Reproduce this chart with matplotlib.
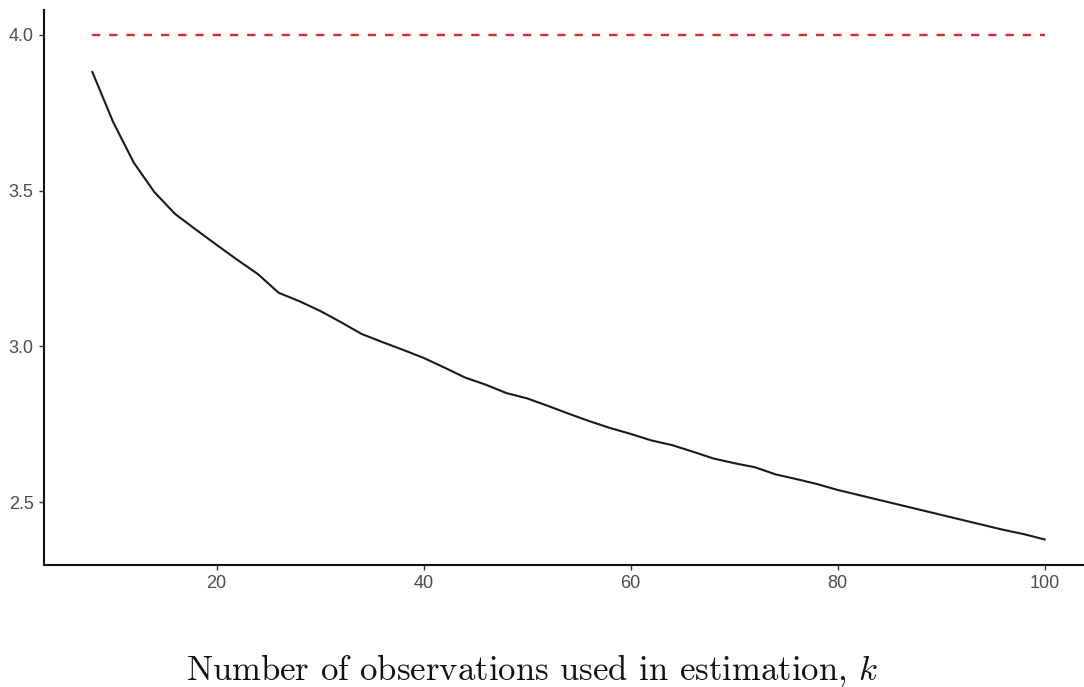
import numpy as np
import matplotlib
matplotlib.use("Agg")
import matplotlib.pyplot as plt
from matplotlib import font_manager

# ── data ────────────────────────────────────────────────────────────────────
k_obs = list(range(8, 101, 2))
estimate = [
    3.881, 3.721, 3.590, 3.495, 3.425, 3.375, 3.326, 3.278, 3.232, 3.172,
    3.145, 3.114, 3.078, 3.040, 3.014, 2.989, 2.963, 2.932, 2.900, 2.877,
    2.850, 2.833, 2.809, 2.784, 2.760, 2.738, 2.719, 2.698, 2.683, 2.662,
    2.640, 2.625, 2.612, 2.589, 2.574, 2.558, 2.539, 2.523, 2.507, 2.491,
    2.475, 2.459, 2.443, 2.427, 2.411, 2.397, 2.380,
]
reference_level = 4.0
ref_x = [8, 100]

x_ticks = [20, 40, 60, 80, 100]
y_ticks = [2.5, 3.0, 3.5, 4.0]
x_label_text = "Number of observations used in estimation, $k$"

# ── fonts ───────────────────────────────────────────────────────────────────
names = {f.name for f in font_manager.fontManager.ttflist}
narrow = "Liberation Sans Narrow" in names
tick_font = "Liberation Sans Narrow" if narrow else "Liberation Sans"
tick_size = 15 if narrow else 13
plt.rcParams["mathtext.fontset"] = "cm"
plt.rcParams["axes.unicode_minus"] = False

fig = plt.figure(figsize=(10.84, 6.87), dpi=100)
ax = fig.add_axes([44 / 1084, 122 / 687, 1040 / 1084, 555 / 687])

ax.plot(k_obs, estimate, color="#1a1a1a", linewidth=1.5)
ax.plot(ref_x, [reference_level] * 2, color="#dc2a30", linewidth=1.7,
        dashes=(3.5, 3.8))

ax.set_xlim(3.33, 103.8)
ax.set_ylim(2.298, 4.080)
ax.set_xticks(x_ticks)
ax.set_yticks(y_ticks)
ax.set_yticklabels([f"{v:.1f}" for v in y_ticks])

for side in ["top", "right"]:
    ax.spines[side].set_visible(False)
for side in ["left", "bottom"]:
    ax.spines[side].set_linewidth(1.5)
    ax.spines[side].set_color("#111111")

ax.tick_params(axis="both", length=3.5, width=1.0, color="#333333",
               labelcolor="#4d4d4d", labelsize=tick_size, pad=4)
for lab in ax.get_xticklabels() + ax.get_yticklabels():
    lab.set_fontfamily(tick_font)

fig.text(532 / 1084, 1 - 680 / 687, x_label_text, ha="center", va="baseline",
         fontsize=25, family="cmr10", color="#111111")

fig.savefig("out.png", dpi=100)
